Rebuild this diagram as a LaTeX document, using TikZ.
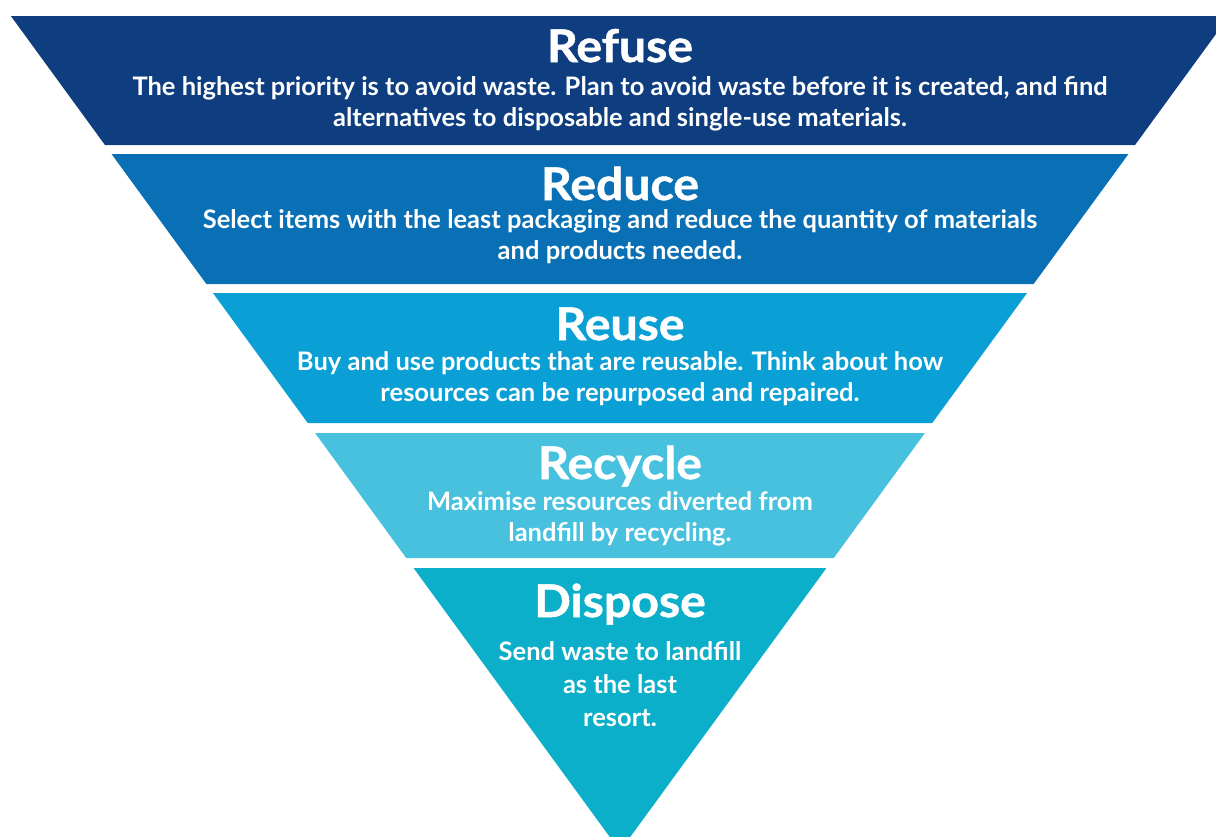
\documentclass[tikz,border=0pt]{standalone}
\usepackage{fontspec}
\setmainfont{Lato}
\newfontfamily\headfont{Lato}[FakeStretch=1.07, BoldFeatures={FakeBold=1.2}]
\usetikzlibrary{positioning}

\definecolor{refuseblue}{HTML}{0E3E80}
\definecolor{reduceblue}{HTML}{0A70B5}
\definecolor{reuseblue}{HTML}{0AA0D5}
\definecolor{recycleblue}{HTML}{47C1DE}
\definecolor{disposeblue}{HTML}{0CAFC9}

\tikzset{
  layer title/.style={text=white, font=\headfont\fontsize{45}{45}\selectfont\bfseries, inner sep=0pt, anchor=base},
  layer text/.style={text=white, font=\fontsize{25.5}{31}\selectfont\bfseries, align=center, inner sep=0pt, anchor=base},
}

\begin{document}
\begin{tikzpicture}[x=1pt,y=-1pt]
  \useasboundingbox (0,0) rectangle (1216,836);
  \clip (0,0) rectangle (1216,836);
  % bands of the upside-down pyramid
  \foreach \ya/\yb/\col in {16/145/refuseblue, 154/284/reduceblue, 293/423/reuseblue, 433/558/recycleblue, 568/851/disposeblue}
    \fill[\col] ({620-0.7295*(851-\ya)},\ya) -- ({620+0.7295*(851-\ya)},\ya)
      -- ({620+0.7295*(851-\yb)},\yb) -- ({620-0.7295*(851-\yb)},\yb) -- cycle;

  % labels (text nodes sit on the baseline of their last line)
  \node[layer title] (refuse) at (620,62) {Refuse};
  \node[layer text] (refuse text) at (620,126) {The highest priority is to avoid waste. Plan to avoid waste before it is created, and find\\alternatives to disposable and single-use materials.};

  \node[layer title] (reduce) at (620,200) {Reduce};
  \node[layer text] (reduce text) at (620,259) {Select items with the least packaging and reduce the quantity of materials\\and products needed.};

  \node[layer title] (reuse) at (620,340) {Reuse};
  \node[layer text] (reuse text) at (620,401) {Buy and use products that are reusable. Think about how\\resources can be repurposed and repaired.};

  \node[layer title] (recycle) at (620,479) {Recycle};
  \node[layer text] (recycle text) at (620,541) {Maximise resources diverted from\\landfill by recycling.};

  \node[layer title] (dispose) at (620,617) {Dispose};
  \node[layer text, font=\fontsize{25.5}{33}\selectfont\bfseries] (dispose text) at (620,726) {Send waste to landfill\\as the last\\resort.};
\end{tikzpicture}
\end{document}
